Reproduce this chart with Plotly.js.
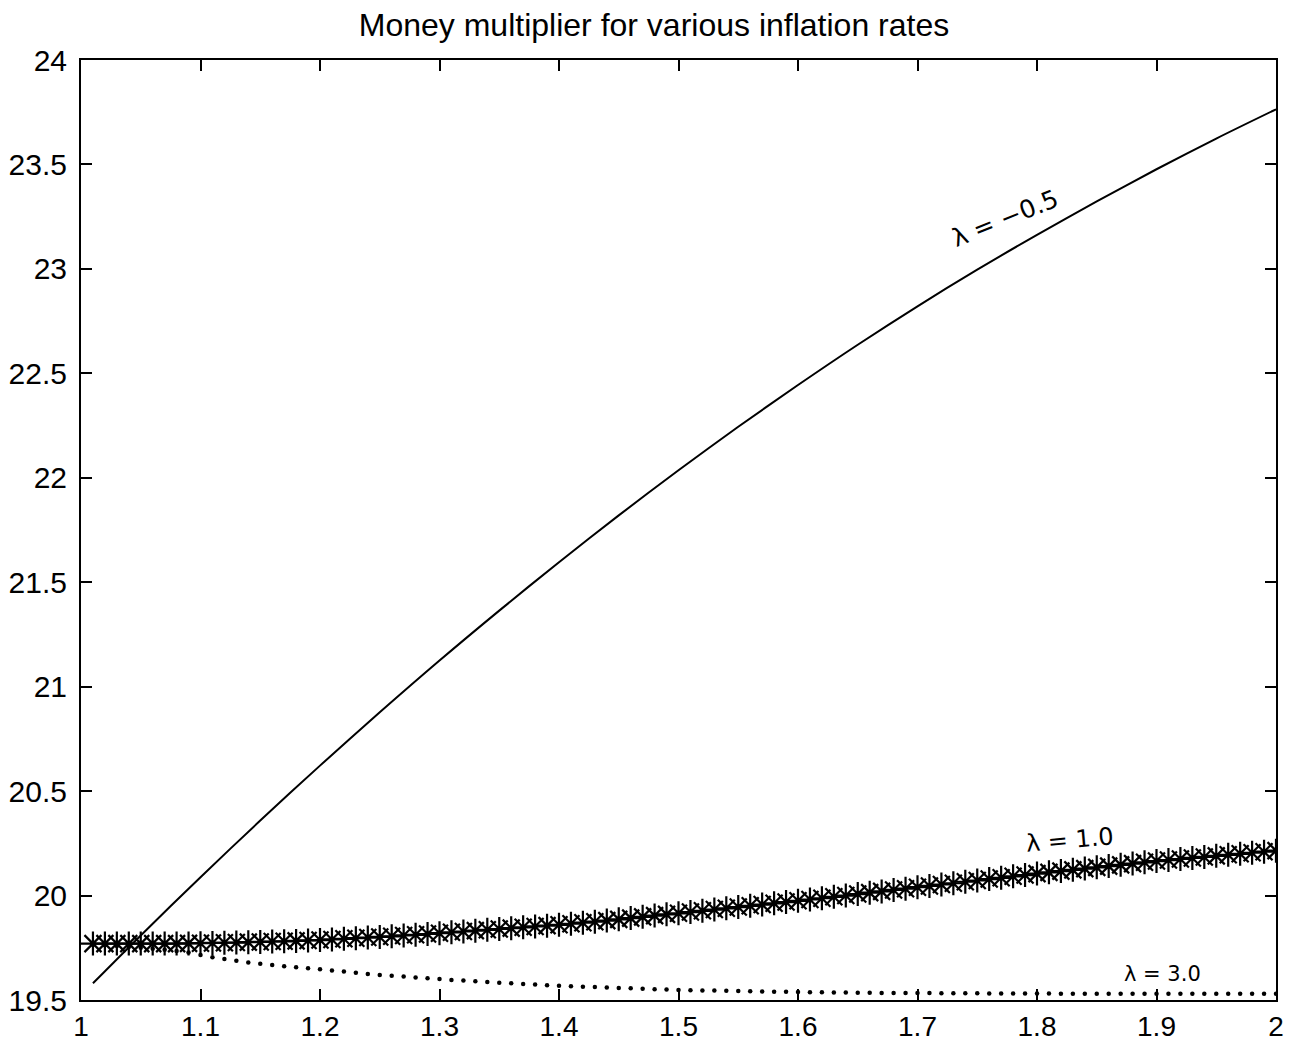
<!DOCTYPE html>
<html>
<head>
<meta charset="utf-8">
<script src="https://cdn.plot.ly/plotly-3.0.1.min.js"></script>
<style>html,body{margin:0;padding:0;background:#fff;}#chart{width:1308px;height:1046px;}</style>
</head>
<body>
<div id="chart"></div>
<script>
// Inflation factor grid (x values)
var inflation = [
1.01,1.02,1.03,1.04,1.05,1.06,1.07,1.08,1.09,1.10,
1.11,1.12,1.13,1.14,1.15,1.16,1.17,1.18,1.19,1.20,
1.21,1.22,1.23,1.24,1.25,1.26,1.27,1.28,1.29,1.30,
1.31,1.32,1.33,1.34,1.35,1.36,1.37,1.38,1.39,1.40,
1.41,1.42,1.43,1.44,1.45,1.46,1.47,1.48,1.49,1.50,
1.51,1.52,1.53,1.54,1.55,1.56,1.57,1.58,1.59,1.60,
1.61,1.62,1.63,1.64,1.65,1.66,1.67,1.68,1.69,1.70,
1.71,1.72,1.73,1.74,1.75,1.76,1.77,1.78,1.79,1.80,
1.81,1.82,1.83,1.84,1.85,1.86,1.87,1.88,1.89,1.90,
1.91,1.92,1.93,1.94,1.95,1.96,1.97,1.98,1.99,2.00];

// lambda = -0.5 (solid line)
var inflationCoarse = [1.01,1.05,1.10,1.15,1.20,1.25,1.30,1.35,1.40,1.45,1.50,1.55,1.60,1.65,1.70,1.75,1.80,1.85,1.90,1.95,2.00];
var lambdaNeg05 = [19.580,19.809,20.088,20.359,20.622,20.877,21.125,21.364,21.596,21.820,22.036,22.244,22.444,22.637,22.821,22.996,23.163,23.323,23.477,23.624,23.764];

// lambda = 1.0 (asterisks)
var lambda10 = [
19.770,19.770,19.770,19.770,19.770,19.770,19.770,19.770,19.771,19.772,
19.773,19.774,19.775,19.777,19.778,19.780,19.781,19.783,19.785,19.787,
19.790,19.793,19.796,19.799,19.802,19.805,19.809,19.812,19.816,19.820,
19.824,19.828,19.832,19.836,19.840,19.844,19.848,19.852,19.856,19.860,
19.865,19.870,19.875,19.880,19.886,19.892,19.898,19.904,19.910,19.915,
19.921,19.927,19.933,19.939,19.945,19.951,19.957,19.963,19.969,19.975,
19.981,19.987,19.994,20.000,20.007,20.014,20.020,20.027,20.033,20.040,
20.046,20.053,20.059,20.066,20.072,20.079,20.085,20.092,20.098,20.105,
20.111,20.117,20.123,20.129,20.135,20.141,20.147,20.153,20.159,20.165,
20.170,20.175,20.180,20.185,20.190,20.195,20.200,20.205,20.210,20.215];

// lambda = 3.0 (dots)
var lambda30 = [
19.765,19.762,19.758,19.754,19.750,19.745,19.740,19.734,19.727,19.716,
19.705,19.696,19.688,19.680,19.673,19.667,19.662,19.657,19.652,19.647,
19.641,19.636,19.631,19.625,19.620,19.616,19.612,19.608,19.604,19.600,
19.596,19.593,19.590,19.586,19.583,19.580,19.577,19.574,19.571,19.568,
19.566,19.564,19.562,19.560,19.558,19.556,19.554,19.552,19.550,19.548,
19.547,19.546,19.545,19.544,19.543,19.542,19.541,19.540,19.539,19.538,
19.537,19.537,19.536,19.536,19.535,19.535,19.534,19.534,19.533,19.533,
19.533,19.532,19.532,19.532,19.532,19.531,19.531,19.531,19.531,19.531,
19.531,19.530,19.530,19.530,19.530,19.530,19.530,19.530,19.530,19.530,
19.530,19.530,19.530,19.530,19.530,19.530,19.530,19.530,19.530,19.530];

var xTickVals = [1,1.1,1.2,1.3,1.4,1.5,1.6,1.7,1.8,1.9,2];
var xTickText = ["1","1.1","1.2","1.3","1.4","1.5","1.6","1.7","1.8","1.9","2"];
var yTickVals = [19.5,20,20.5,21,21.5,22,22.5,23,23.5,24];
var yTickText = ["19.5","20","20.5","21","21.5","22","22.5","23","23.5","24"];

var titleText = "Money multiplier for various inflation rates";
var labels = ["λ = −0.5", "λ = 1.0", "λ = 3.0"];

var traces = [
  {x: inflationCoarse, y: lambdaNeg05, mode: "lines", line: {color: "#000", width: 2, shape: "spline", smoothing: 0.8}, hoverinfo: "skip"},
  {x: inflation, y: lambda10, mode: "markers", marker: {symbol: "asterisk-open", size: 20, color: "#000", line: {color: "#000", width: 2.2}}, hoverinfo: "skip"},
  {x: inflation, y: lambda30, mode: "markers", marker: {symbol: "circle", size: 4.5, color: "#000"}, hoverinfo: "skip"}
];

var axisCommon = {
  showgrid: false, zeroline: false, showline: true, linecolor: "#000", linewidth: 2,
  mirror: "ticks", ticks: "inside", ticklen: 11, tickwidth: 2, tickcolor: "#000",
  tickfont: {family: "Liberation Sans, Arial, sans-serif", size: 30, color: "#000"}
};

var layout = {
  width: 1308, height: 1046,
  margin: {l: 81, r: 32, t: 60, b: 46},
  paper_bgcolor: "#fff", plot_bgcolor: "#fff",
  showlegend: false,
  title: {text: titleText, x: 0.5, xanchor: "center", y: 0.976, yanchor: "middle",
          font: {family: "Liberation Sans, Arial, sans-serif", size: 32, color: "#000"}},
  xaxis: Object.assign({}, axisCommon, {range: [1, 2], tickvals: xTickVals, ticktext: xTickText, ticklabelstandoff: 0,
          tickfont: {family: "Liberation Sans, Arial, sans-serif", size: 28, color: "#000"}}),
  yaxis: Object.assign({}, axisCommon, {range: [19.5, 24], tickvals: yTickVals, ticktext: yTickText, ticklabelstandoff: 6}),
  annotations: [
    {x: 1.773, y: 23.24, xref: "x", yref: "y", text: labels[0], showarrow: false, textangle: -22,
     font: {family: "DejaVu Sans, sans-serif", size: 25, color: "#000"}},
    {x: 1.828, y: 20.265, xref: "x", yref: "y", text: labels[1], showarrow: false, textangle: -5,
     font: {family: "DejaVu Sans, sans-serif", size: 24, color: "#000"}},
    {x: 1.905, y: 19.625, xref: "x", yref: "y", text: labels[2], showarrow: false, textangle: 0,
     font: {family: "DejaVu Sans, sans-serif", size: 21, color: "#000"}}
  ]
};

Plotly.newPlot("chart", traces, layout, {staticPlot: true, displayModeBar: false});
</script>
</body>
</html>
